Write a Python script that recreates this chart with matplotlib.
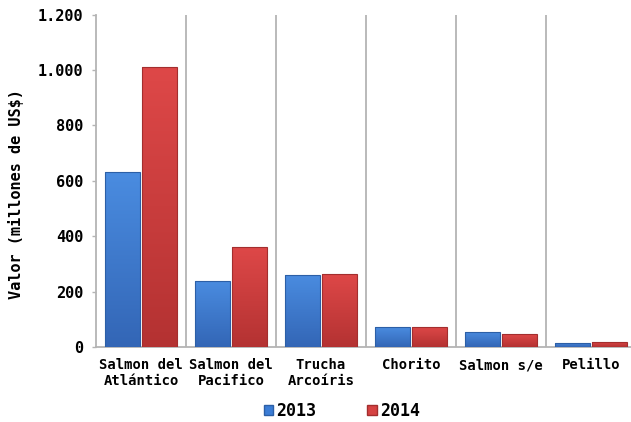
import matplotlib
matplotlib.use("Agg")
import matplotlib.pyplot as plt
import matplotlib.colors as mcolors
import numpy as np

categories = ["Salmon del\nAtlántico", "Salmon del\nPacifico", "Trucha\nArcoíris",
              "Chorito", "Salmon s/e", "Pelillo"]
values_2013 = [630, 240, 261, 71, 55, 15]
values_2014 = [1012, 362, 265, 73, 46, 19]
y_ticks = [0, 200, 400, 600, 800, 1000, 1200]
y_tick_labels = ["0", "200", "400", "600", "800", "1.000", "1.200"]

font = {"family": "DejaVu Sans Mono", "weight": "bold"}


def shade_bars(axis, bars, top_color, bottom_color):
    top = np.array(mcolors.to_rgb(top_color))
    bottom = np.array(mcolors.to_rgb(bottom_color))
    steps = np.linspace(0, 1, 64)[:, None]
    gradient = (top * (1 - steps) + bottom * steps)[:, None, :]
    for bar in bars:
        x0, y0 = bar.get_x(), bar.get_y()
        image = axis.imshow(gradient, extent=[x0, x0 + bar.get_width(), y0, y0 + bar.get_height()],
                            aspect="auto", origin="upper", zorder=3, interpolation="bilinear")
        image.set_clip_path(bar)


figure = plt.figure(figsize=(6.31, 4.22), dpi=100)
axis = figure.add_axes([96 / 631, (422 - 347) / 422, 540 / 631, 332.4 / 422])

x = np.arange(len(categories))
width = 0.385
bars_2013 = axis.bar(x - 0.205, values_2013, width, color="#3b7dd6", edgecolor="#2c5fa6",
                     linewidth=0.8, label="2013", zorder=4)
bars_2014 = axis.bar(x + 0.205, values_2014, width, color="#d64242", edgecolor="#a32e2e",
                     linewidth=0.8, label="2014", zorder=4)
for bar in list(bars_2013) + list(bars_2014):
    bar.set_facecolor("none")
shade_bars(axis, bars_2013, "#4a8ce0", "#3366b6")
shade_bars(axis, bars_2014, "#de4848", "#b43232")

axis.set_xlim(-0.5, len(categories) - 0.5)
axis.set_ylim(0, 1200)
for boundary in np.arange(0.5, len(categories) - 0.5):
    axis.axvline(boundary, color="#b4b4b4", linewidth=1.3, zorder=1)

axis.set_yticks(y_ticks)
axis.set_yticklabels(y_tick_labels, fontsize=11, **font)
axis.set_xticks(x)
axis.set_xticklabels(categories, fontsize=10, linespacing=1.15, **font)
axis.tick_params(axis="x", length=0, pad=8)
axis.tick_params(axis="y", length=3, width=1, color="#b4b4b4", pad=6)

for side in ["top", "right"]:
    axis.spines[side].set_visible(False)
for side in ["left", "bottom"]:
    axis.spines[side].set_color("#b4b4b4")
    axis.spines[side].set_linewidth(1.3)

axis.set_ylabel("Valor (millones de US$)", fontsize=11, **font)
axis.yaxis.set_label_coords(-0.133, 0.46)

legend_handles = [bars_2013, bars_2014]
figure.legend(handles=[plt.Rectangle((0, 0), 1, 1, facecolor="#3b7dd6", edgecolor="#2c5fa6"),
                       plt.Rectangle((0, 0), 1, 1, facecolor="#d64242", edgecolor="#a32e2e")],
              labels=["2013", "2014"],
              loc="center", bbox_to_anchor=(342 / 631, (422 - 411) / 422), ncol=2,
              frameon=False, handlelength=0.55, handleheight=0.55,
              handletextpad=0.2, columnspacing=3.05,
              prop={"family": "DejaVu Sans Mono", "weight": "bold", "size": 12})

figure.savefig("out.png", dpi=100)
plt.close(figure)
